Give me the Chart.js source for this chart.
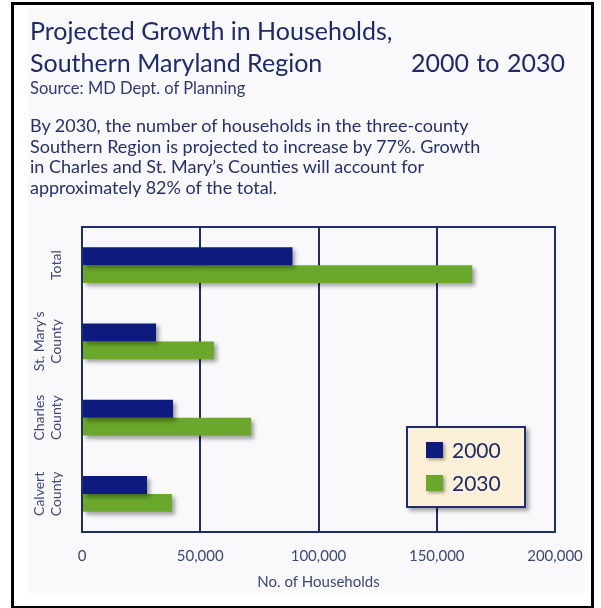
<!DOCTYPE html>
<html>
<head>
<meta charset="utf-8">
<script src="https://cdn.jsdelivr.net/npm/chart.js@4.4.1/dist/chart.umd.min.js"></script>
<style>
  html, body { margin: 0; padding: 0; background: #fff; }
  #page { position: relative; width: 601px; height: 608px; overflow: hidden; font-family: Lato, "Open Sans", sans-serif; }
  #frame { position: absolute; left: 11px; top: 2px; width: 577px; height: 601px; border: 3px solid #000; }
  #panel { position: absolute; left: 28px; top: 8px; width: 557px; height: 585px; background: #f9f9fb; }
  #chart { position: absolute; left: 0; top: 0; }
  .txt { position: absolute; left: 30px; white-space: nowrap; color: #1d2a6b; }
  .title { font-size: 25px; line-height: 25px; }
  #src { font-size: 16.5px; line-height: 16.5px; color: #2d3a72; }
  #note { font-size: 18px; line-height: 20.7px; color: #26306a; }
  #legend { position: absolute; left: 406px; top: 426px; width: 116px; height: 78px; background: #fcf0d9;
            border: 2px solid #1f2d6b; box-shadow: 3px 3px 4px rgba(0,0,0,0.35); z-index: 2; }
  .item { position: absolute; left: 18px; height: 17px; }
  .item .sw { position: absolute; left: 0; top: 0; width: 17px; height: 16px; box-shadow: 2px 2px 3px rgba(0,0,0,0.35); }
  .item .lb { position: absolute; left: 26px; top: -3px; font-size: 21px; line-height: 21px; color: #1d2a6b; }
</style>
</head>
<body>
<div id="page">
  <div id="frame"></div>
  <div id="panel"></div>
  <canvas id="chart" width="601" height="608"></canvas>
  <div class="txt title" style="top:18px">Projected Growth in Households,</div>
  <div class="txt title" style="top:50px">Southern Maryland Region</div>
  <div class="txt title" style="top:50px; left:411px; word-spacing:1px">2000 to 2030</div>
  <div class="txt" id="src" style="top:80px">Source: MD Dept. of Planning</div>
  <div class="txt" id="note" style="top:115px">By 2030, the number of households in the three-county<br>Southern Region is projected to increase by 77%. Growth<br>in Charles and St. Mary’s Counties will account for<br>approximately 82% of the total.</div>
  <div id="legend"></div>
</div>
<script>
// chart data
const categories = [['', 'Total'], ['St. Mary’s', 'County'], ['Charles', 'County'], ['Calvert', 'County']];
const seriesNames = ['2000', '2030'];
const households2000 = [89000, 31300, 38500, 27500];
const households2030 = [165000, 55800, 71500, 38000];
const xTicks = [0, 50000, 100000, 150000, 200000];

const navy = '#0d1b7e';
const green = '#69a82a';
const lineColor = '#1f2d6b';
const tickColor = '#3d4877';

// drop shadow under the bars
const barShadow = {
    id: 'barShadow',
    beforeDatasetsDraw(chart) {
        const ctx = chart.ctx;
        ctx.save();
        ctx.shadowColor = 'rgba(0,0,0,0.35)';
        ctx.shadowOffsetX = 3;
        ctx.shadowOffsetY = 3;
        ctx.shadowBlur = 4;
    },
    afterDatasetsDraw(chart) {
        chart.ctx.restore();
    }
};

// box round the plot area
const plotFrame = {
    id: 'plotFrame',
    afterDraw(chart) {
        const { ctx, chartArea: a } = chart;
        ctx.save();
        ctx.strokeStyle = lineColor;
        ctx.lineWidth = 2;
        ctx.strokeRect(a.left, a.top, a.right - a.left, a.bottom - a.top);
        ctx.restore();
    }
};

const ctx = document.getElementById('chart').getContext('2d');
const chart = new Chart(ctx, {
    type: 'bar',
    data: {
        labels: categories,
        datasets: [{
            label: seriesNames[0],
            data: households2000,
            backgroundColor: navy
        }, {
            label: seriesNames[1],
            data: households2030,
            backgroundColor: green
        }]
    },
    options: {
        indexAxis: 'y',
        responsive: false,
        animation: false,
        categoryPercentage: 0.47,
        barPercentage: 1.0,
        layout: { padding: { top: 227, left: 20, right: 46, bottom: 16 } },
        plugins: {
            legend: { display: false },
            tooltip: { enabled: false }
        },
        scales: {
            x: {
                min: 0,
                max: 200000,
                afterFit: s => { s.height = 60; },
                afterBuildTicks: s => { s.ticks = xTicks.map(v => ({ value: v })); },
                grid: { color: lineColor, lineWidth: 2, drawTicks: false },
                border: { color: lineColor, width: 2 },
                ticks: {
                    padding: 15,
                    color: tickColor,
                    font: { family: 'Lato', size: 15 },
                    callback: v => v.toLocaleString('en-US')
                },
                title: {
                    display: true,
                    text: 'No. of Households',
                    color: tickColor,
                    font: { family: 'Lato', size: 15 },
                    padding: { top: 0, bottom: 1 }
                }
            },
            y: {
                afterFit: s => { s.width = 62; },
                grid: { display: false, drawTicks: false },
                border: { color: lineColor, width: 2 },
                ticks: {
                    minRotation: 90,
                    maxRotation: 90,
                    crossAlign: 'center',
                    padding: 4,
                    color: tickColor,
                    font: { family: 'Lato', size: 14 }
                }
            }
        }
    },
    plugins: [barShadow, plotFrame]
});

// legend built from the series
const legend = document.getElementById('legend');
const colors = [navy, green];
seriesNames.forEach((name, i) => {
    const item = document.createElement('div');
    item.className = 'item';
    item.style.top = (14 + i * 33) + 'px';
    item.innerHTML = `<div class="sw" style="background:${colors[i]}"></div><div class="lb">${name}</div>`;
    legend.appendChild(item);
});
</script>
</body>
</html>
